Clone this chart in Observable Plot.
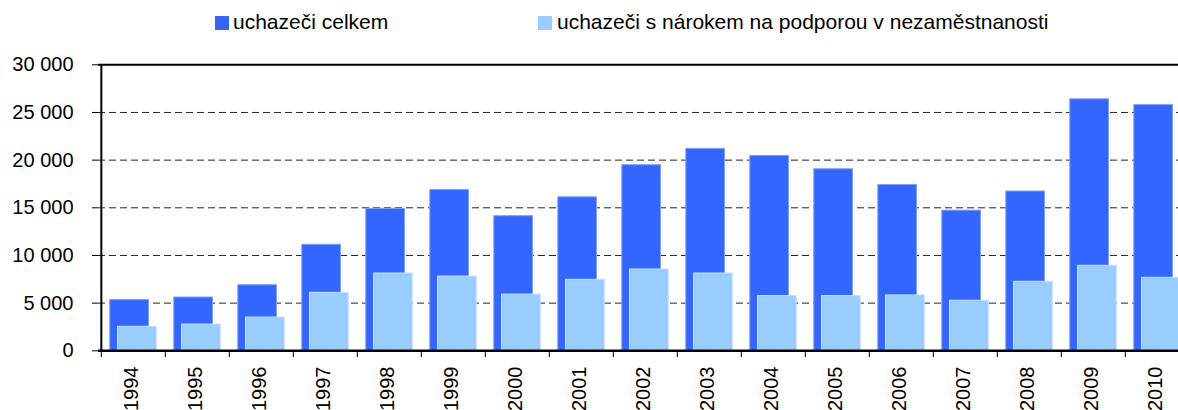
<!DOCTYPE html>
<html>
<head>
<meta charset="utf-8">
<script src="https://cdn.jsdelivr.net/npm/d3@7"></script>
<script src="https://cdn.jsdelivr.net/npm/@observablehq/plot@0.6"></script>
<style>
  body { margin: 0; background: #fff; font-family: "Liberation Sans", Arial, sans-serif; overflow: hidden; }
  #legend { position: relative; height: 44px; width: 1178px; }
  .sw { position: absolute; top: 16px; width: 14px; height: 14px; }
  .lt { position: absolute; top: 9px; font-size: 21px; line-height: 26px; color: #000; white-space: nowrap; }
  #chart svg { display: block; }
</style>
</head>
<body>
<div id="legend"></div>
<div id="chart"></div>
<script>
const years = ["1994","1995","1996","1997","1998","1999","2000","2001","2002","2003","2004","2005","2006","2007","2008","2009","2010"];
const total = [5320, 5590, 6880, 11120, 14890, 16870, 14120, 16100, 19470, 21180, 20430, 19040, 17390, 14700, 16710, 26380, 25770];
const withBenefit = [2520, 2760, 3490, 6080, 8110, 7790, 5900, 7450, 8530, 8110, 5740, 5740, 5810, 5250, 7240, 8920, 7660];
const seriesNames = ["uchazeči celkem", "uchazeči s nárokem na podporou v nezaměstnanosti"];
const seriesColors = ["#3366FF", "#99CCFF"];
const yTicks = [0, 5000, 10000, 15000, 20000, 25000, 30000];
const yTickLabels = ["0", "5 000", "10 000", "15 000", "20 000", "25 000", "30 000"];

// legend
const legend = document.getElementById("legend");
const legendPos = [[215, 233], [538, 557]];
seriesNames.forEach((name, i) => {
  const sw = document.createElement("div");
  sw.className = "sw";
  sw.style.left = legendPos[i][0] + "px";
  sw.style.background = seriesColors[i];
  legend.appendChild(sw);
  const t = document.createElement("div");
  t.className = "lt";
  t.style.left = legendPos[i][1] + "px";
  t.textContent = name;
  legend.appendChild(t);
});

const rowsTotal = years.map((y, i) => ({year: y, value: total[i]}));
const rowsBenefit = years.map((y, i) => ({year: y, value: withBenefit[i]}));

const left = 98.3, step = 64.35;
const zeroY = 306.3, topY = 20.3;
const labelMap = new Map(yTicks.map((t, i) => [t, yTickLabels[i]]));

const chart = Plot.plot({
  width: 1178,
  height: 366,
  marginLeft: 98,
  marginTop: 20,
  marginBottom: 60,
  marginRight: 0,
  style: {fontFamily: "'Liberation Sans', Arial, sans-serif", color: "#000", background: "#fff", overflow: "visible"},
  x: {type: "band", domain: years, range: [left, left + step * years.length], padding: 0, label: null},
  y: {domain: [0, 30000], range: [zeroY, topY], label: null},
  marks: [
    Plot.ruleY(yTicks.filter(t => t > 0 && t < 30000), {stroke: "#222", strokeWidth: 1, strokeDasharray: "7,4"}),
    Plot.barY(rowsTotal, {x: "year", y: "value", fill: seriesColors[0], stroke: "#7f9fff", strokeWidth: 1, insetLeft: 8.8, insetRight: 16.5}),
    Plot.barY(rowsBenefit, {x: "year", y: "value", fill: seriesColors[1], stroke: "#c2e0ff", strokeWidth: 1, insetLeft: 16.5, insetRight: 8.8}),
    Plot.ruleY([30000], {stroke: "#000", strokeWidth: 2}),
    Plot.ruleY([0], {stroke: "#000", strokeWidth: 2.5}),
    Plot.ruleX([years[0]], {y1: 0, y2: 30000, dx: -step / 2, stroke: "#000", strokeWidth: 2}),
    Plot.axisY({ticks: yTicks, tickFormat: d => labelMap.get(d), tickSize: 6, tickPadding: 19, fontSize: 20, stroke: "#000", label: null}),
    Plot.axisX({tickSize: 7, tickFormat: () => "", dx: -step / 2, stroke: "#000", label: null}),
    Plot.axisX({tickSize: 0, tickRotate: -90, tickPadding: 16, fontSize: 20, dx: -2, label: null})
  ]
});
document.getElementById("chart").appendChild(chart);
</script>
</body>
</html>
